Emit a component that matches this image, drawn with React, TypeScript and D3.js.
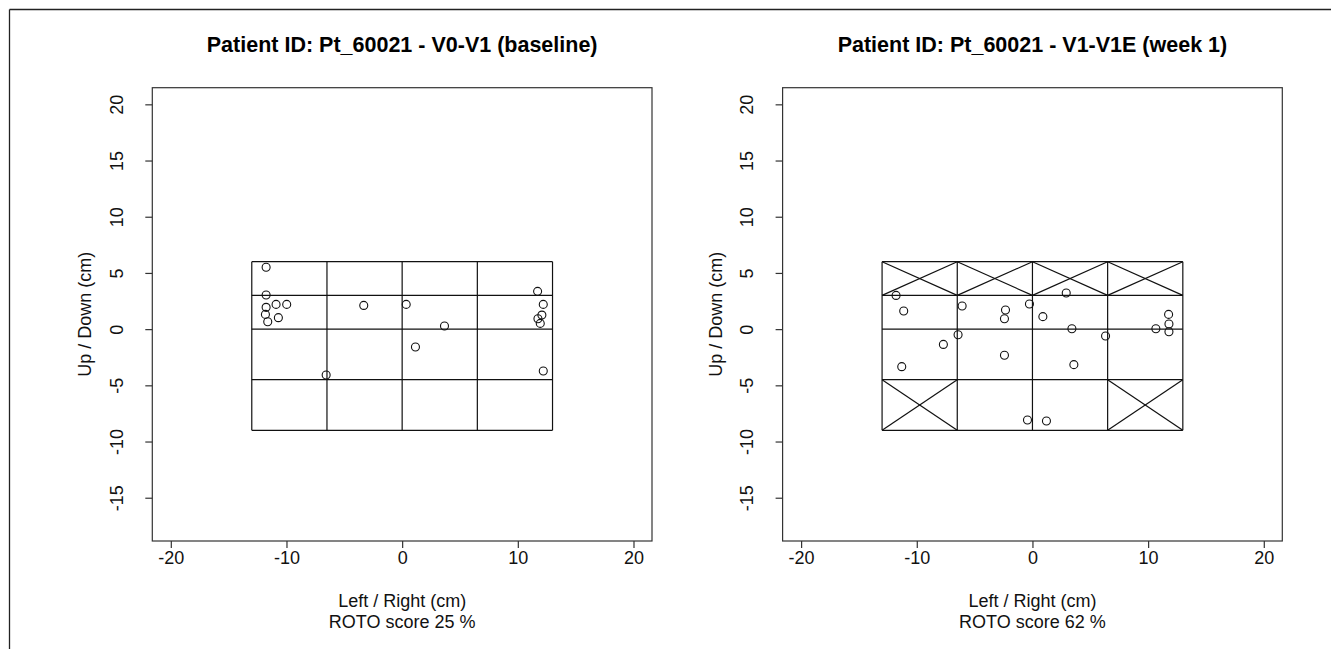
import React from 'react';
import * as d3 from 'd3';

// panel titles and axis labels
const titles = ['Patient ID: Pt_60021 - V0-V1 (baseline)', 'Patient ID: Pt_60021 - V1-V1E (week 1)'];
const rotoScores = [25, 62];
const xTicks = [-20, -10, 0, 10, 20];
const yTicks = [-15, -10, -5, 0, 5, 10, 15, 20];

// ROTO grid edges (cm)
const gridX = [-13, -6.5, 0, 6.5, 13];
const gridY = [-9, -4.5, 0, 3, 6];

// crossed-out cells [column, row] with row 0 at the bottom
const crossedLeft: number[][] = [];
const crossedRight = [[0, 3], [1, 3], [2, 3], [3, 3], [0, 0], [3, 0]];

// points, baseline
const leftX = [-11.76, -11.76, -11.76, -10.9, -9.98, -11.82, -11.62, -10.7, -3.32, 0.35, 3.66, 1.15, -6.57, 11.71, 12.2, 12.08, 11.74, 11.94, 12.2];
const leftY = [5.5, 3.03, 1.94, 2.2, 2.2, 1.31, 0.66, 1.02, 2.11, 2.2, 0.28, -1.59, -4.08, 3.36, 2.2, 1.25, 0.93, 0.51, -3.73];

// points, week 1
const rightX = [-11.79, -11.13, -6.08, -6.43, -7.7, -11.3, -2.33, -2.42, -2.42, -0.26, 0.9, 2.92, 3.41, 3.58, 6.32, 10.67, 11.77, 11.8, 11.8, -0.43, 1.21];
const rightY = [3.0, 1.61, 2.06, -0.5, -1.36, -3.34, 1.7, 0.93, -2.33, 2.23, 1.11, 3.21, 0.04, -3.16, -0.61, 0.04, 1.31, 0.45, -0.23, -8.09, -8.18];

const FONT = '"Liberation Sans", Arial, Helvetica, sans-serif';

export default function App() {
  const ref = React.useRef<SVGSVGElement>(null);

  React.useEffect(() => {
    if (!ref.current) return;
    const svg = d3.select(ref.current);
    svg.selectAll('*').remove();

    // outer frame (top and left only)
    svg.append('line').attr('x1', 9.5).attr('y1', 9.5).attr('x2', 1331).attr('y2', 9.5)
      .attr('stroke', '#222').attr('stroke-width', 1.3);
    svg.append('line').attr('x1', 9.5).attr('y1', 9.5).attr('x2', 9.5).attr('y2', 649)
      .attr('stroke', '#222').attr('stroke-width', 1.3);

    const panels = [
      {xs: leftX, ys: leftY, crossed: crossedLeft},
      {xs: rightX, ys: rightY, crossed: crossedRight},
    ];

    const top = 87.7, bottom = 541, boxW = 499.7;
    const y = d3.scaleLinear().domain([-18.85, 21.48]).range([bottom, top]);
    const fmt = (d: any) => String(d);

    panels.forEach((p, i) => {
      const left = 152.3 + i * 630.3;
      const x = d3.scaleLinear().domain([-21.6, 21.6]).range([left, left + boxW]);
      const g = svg.append('g');
      const cx = x(0);

      g.append('text')
        .attr('x', cx).attr('y', 51.5)
        .attr('text-anchor', 'middle')
        .style('font-family', FONT).style('font-weight', 'bold').style('font-size', '21.5px')
        .text(titles[i]);

      // plot box
      g.append('rect')
        .attr('x', left).attr('y', top).attr('width', boxW).attr('height', bottom - top)
        .attr('fill', 'none').attr('stroke', '#333').attr('stroke-width', 1.2);

      // x axis
      const ax = g.append('g').attr('transform', `translate(0,${bottom})`)
        .call(d3.axisBottom(x).tickValues(xTicks).tickSize(7).tickFormat(fmt));
      ax.select('.domain').remove();
      ax.selectAll('line').attr('stroke', '#333').attr('stroke-width', 1.2);
      ax.selectAll('text')
        .attr('y', 23).attr('dy', null)
        .style('font-family', FONT).style('font-size', '18px').attr('fill', '#111');

      // y axis
      const ay = g.append('g').attr('transform', `translate(${left},0)`)
        .call(d3.axisLeft(y).tickValues(yTicks).tickSize(7).tickFormat(fmt));
      ay.select('.domain').remove();
      ay.selectAll('line').attr('stroke', '#333').attr('stroke-width', 1.2);
      ay.selectAll('text')
        .attr('x', null).attr('dy', null)
        .attr('text-anchor', 'middle')
        .attr('transform', 'translate(-29.5,0) rotate(-90)')
        .style('font-family', FONT).style('font-size', '18px').attr('fill', '#111');

      // axis titles
      g.append('text')
        .attr('transform', `translate(${left - 61},${(top + bottom) / 2}) rotate(-90)`)
        .attr('text-anchor', 'middle')
        .style('font-family', FONT).style('font-size', '18px').attr('fill', '#111')
        .text('Up / Down (cm)');
      g.append('text')
        .attr('x', cx).attr('y', 606.5).attr('text-anchor', 'middle')
        .style('font-family', FONT).style('font-size', '18px').attr('fill', '#111')
        .text('Left / Right (cm)');
      g.append('text')
        .attr('x', cx).attr('y', 627.5).attr('text-anchor', 'middle')
        .style('font-family', FONT).style('font-size', '18px').attr('fill', '#111')
        .text(`ROTO score ${rotoScores[i]} %`);

      // ROTO grid
      const grid = g.append('g').attr('stroke', '#111').attr('stroke-width', 1.2).attr('fill', 'none');
      gridX.forEach(v => {
        grid.append('line').attr('x1', x(v)).attr('x2', x(v))
          .attr('y1', y(gridY[0])).attr('y2', y(gridY[gridY.length - 1]));
      });
      gridY.forEach(v => {
        grid.append('line').attr('y1', y(v)).attr('y2', y(v))
          .attr('x1', x(gridX[0])).attr('x2', x(gridX[gridX.length - 1]));
      });
      p.crossed.forEach(([c, r]) => {
        const x0 = x(gridX[c]), x1 = x(gridX[c + 1]);
        const y0 = y(gridY[r]), y1 = y(gridY[r + 1]);
        grid.append('line').attr('x1', x0).attr('y1', y0).attr('x2', x1).attr('y2', y1);
        grid.append('line').attr('x1', x0).attr('y1', y1).attr('x2', x1).attr('y2', y0);
      });

      // points
      g.append('g').selectAll('circle')
        .data(p.xs.map((v, k) => [v, p.ys[k]]))
        .enter()
        .append('circle')
        .attr('cx', d => x(d[0]))
        .attr('cy', d => y(d[1]))
        .attr('r', 4)
        .attr('fill', 'none')
        .attr('stroke', '#111')
        .attr('stroke-width', 1.1);
    });
  }, []);

  return (
    <>
      <style>{'body{margin:0}'}</style>
      <svg ref={ref} width={1331} height={649} style={{display: 'block', background: '#fff'}} />
    </>
  );
}
